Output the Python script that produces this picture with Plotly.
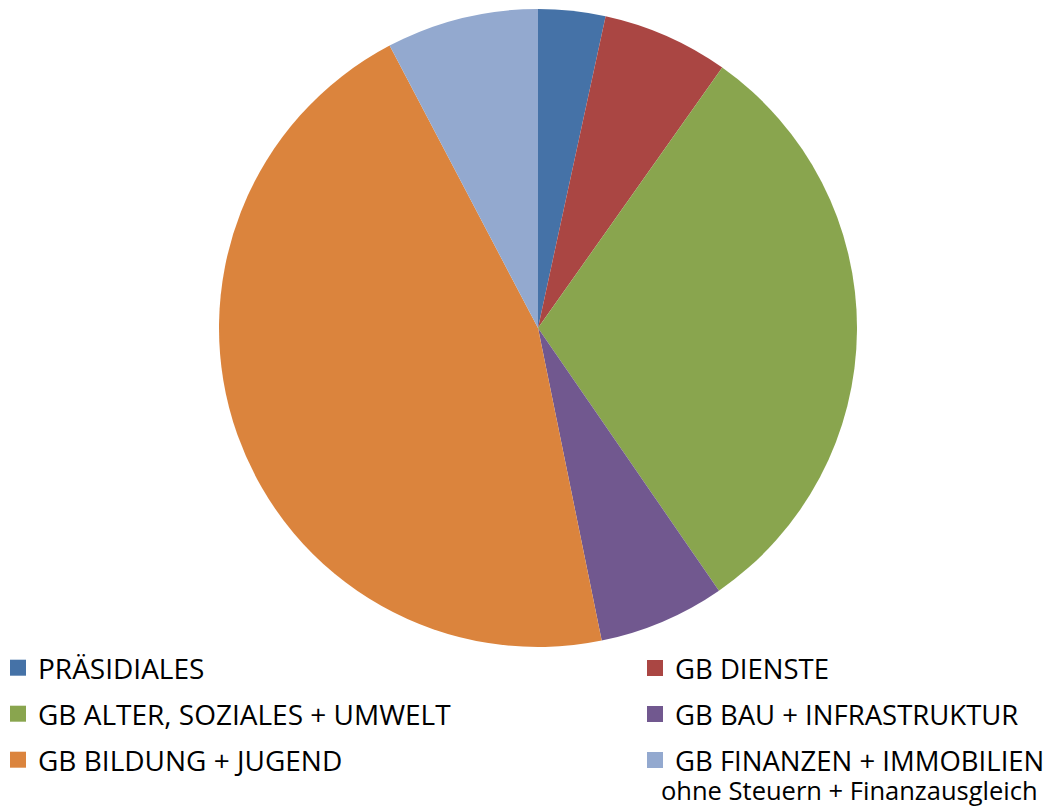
import plotly.graph_objects as go

labels = ["PRÄSIDIALES", "GB DIENSTE", "GB ALTER, SOZIALES + UMWELT",
          "GB BAU + INFRASTRUKTUR", "GB BILDUNG + JUGEND", "GB FINANZEN + IMMOBILIEN"]
values = [3.4, 6.4, 30.6, 6.4, 45.5, 7.7]
colors = ["#4572A7", "#AA4643", "#89A54E", "#71588F", "#DB843D", "#93A9CF"]
note = "ohne Steuern + Finanzausgleich"

W, H = 1055, 807
OFF = 8  # page body margin
FONT = "Open Sans"

def px_x(x):
    return (x - OFF) / W

def px_y(y):
    return (H - (y - OFF)) / H

fig = go.Figure()
cx, cy, r = 538, 328, 319
fig.add_trace(go.Pie(
    labels=labels, values=values, sort=False, direction="clockwise", rotation=0,
    marker=dict(colors=colors, line=dict(width=0)),
    textinfo="none", hoverinfo="label+percent", showlegend=False,
    domain=dict(x=[px_x(cx - r), px_x(cx + r)], y=[px_y(cy + r), px_y(cy - r)]),
))

pos = [(-2, 668), (635, 668), (-2, 714), (635, 714), (-2, 760), (635, 760)]
layout_legends = {}
for i, (lab, col) in enumerate(zip(labels, colors)):
    key = "legend" if i == 0 else f"legend{i+1}"
    fig.add_trace(go.Scatter(
        x=[None], y=[None], mode="markers", name=lab,
        marker=dict(symbol="square", size=18, color=col),
        legend=key, showlegend=True, hoverinfo="skip",
    ))
    lx, ly = pos[i]
    layout_legends[key] = dict(
        x=px_x(lx), y=px_y(ly), xanchor="left", yanchor="middle",
        orientation="v", bgcolor="rgba(0,0,0,0)", borderwidth=0,
        font=dict(family=FONT, size=28 if i % 2 == 0 else 27.5, color="#000000"),
        itemclick=False, itemdoubleclick=False,
    )

fig.add_annotation(
    text=note, x=px_x(849), y=px_y(790), xref="paper", yref="paper",
    xanchor="center", yanchor="middle", showarrow=False,
    font=dict(family=FONT, size=25.5, color="#000000"),
)

fig.update_layout(
    width=W, height=H, margin=dict(l=0, r=0, t=0, b=0, pad=0, autoexpand=False),
    paper_bgcolor="white", plot_bgcolor="white",
    xaxis=dict(visible=False), yaxis=dict(visible=False),
    **layout_legends,
)

fig.write_html("out.html")
